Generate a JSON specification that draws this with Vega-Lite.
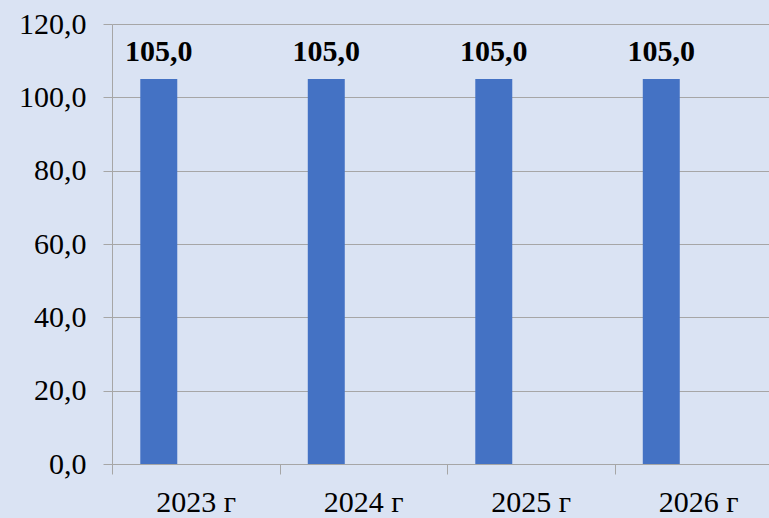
{
  "$schema": "https://vega.github.io/schema/vega-lite/v6.json",
  "autosize": {"type": "none"},
  "padding": {"left": 112, "top": 24, "right": 0, "bottom": 54},
  "width": 657,
  "height": 440,
  "background": "#dae3f3",
  "config": {
    "view": {"stroke": null},
    "font": "Liberation Serif",
    "axis": {"labelFont": "Liberation Serif"},
    "locale": {
      "number": {"decimal": ",", "thousands": "\u00a0", "grouping": [3], "currency": ["", ""]}
    }
  },
  "data": {
    "values": [
      {"year": "2023 г", "series": "a", "value": 105.0},
      {"year": "2024 г", "series": "a", "value": 105.0},
      {"year": "2025 г", "series": "a", "value": 105.0},
      {"year": "2026 г", "series": "a", "value": 105.0}
    ]
  },
  "encoding": {
    "x": {
      "field": "year",
      "type": "nominal",
      "sort": null,
      "scale": {"range": [0, 670], "paddingInner": 0, "paddingOuter": 0},
      "axis": {
        "title": null,
        "labelAngle": 0,
        "labelFont": "Liberation Serif",
        "labelFontSize": 30,
        "labelColor": "#000000",
        "labelPadding": 13,
        "tickBand": "extent",
        "tickSize": 10,
        "tickColor": "#a6a6a6",
        "domainColor": "#a6a6a6",
        "grid": false
      }
    },
    "xOffset": {
      "field": "series",
      "type": "nominal",
      "scale": {"domain": ["a", "b", "c"], "paddingInner": 0, "paddingOuter": 0.765}
    },
    "y": {
      "field": "value",
      "type": "quantitative",
      "scale": {"domain": [0, 120]},
      "axis": {
        "title": null,
        "values": [0, 20, 40, 60, 80, 100, 120],
        "format": ".1f",
        "labelFont": "Liberation Serif",
        "labelFontSize": 30,
        "labelColor": "#000000",
        "labelPadding": 17,
        "tickSize": 9,
        "tickColor": "#a6a6a6",
        "domainColor": "#a6a6a6",
        "gridColor": "#a6a6a6",
        "grid": true
      }
    }
  },
  "layer": [
    {"mark": {"type": "bar", "color": "#4472c4"}},
    {
      "mark": {
        "type": "text",
        "font": "Liberation Serif",
        "fontWeight": "bold",
        "fontSize": 30,
        "color": "#000000",
        "baseline": "alphabetic",
        "dy": -18
      },
      "encoding": {
        "text": {"field": "value", "type": "quantitative", "format": ".1f"}
      }
    }
  ]
}
